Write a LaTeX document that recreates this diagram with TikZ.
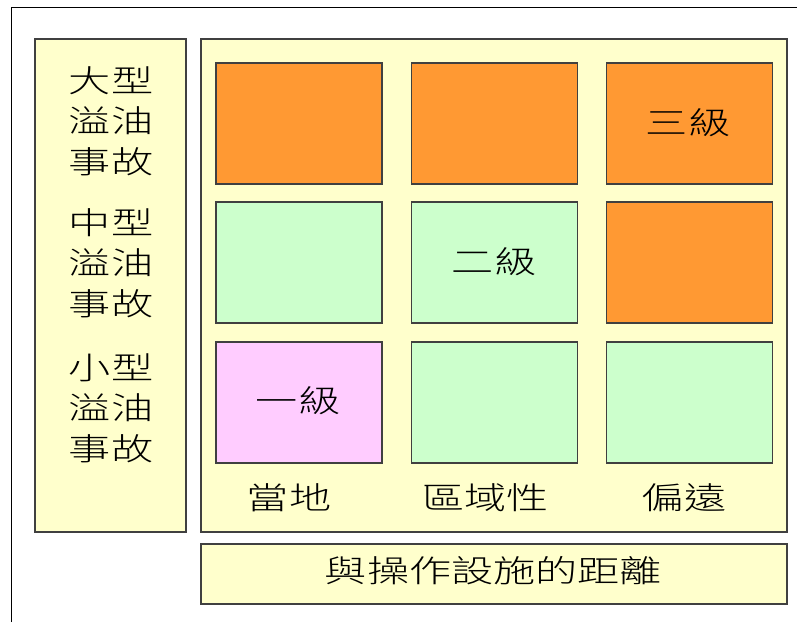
\documentclass[tikz,border=0pt]{standalone}
\usepackage{fontspec}
\newfontfamily\cjk[FakeStretch=1.36]{Noto Sans CJK TC Light}
\definecolor{cream}{HTML}{FFFFCC}
\definecolor{orng}{HTML}{FF9933}
\definecolor{grn}{HTML}{CCFFCC}
\definecolor{pnk}{HTML}{FFCCFF}
\definecolor{edge}{HTML}{404040}
\tikzset{
  panel/.style={draw=edge, line width=1.5pt, fill=cream, inner sep=0pt, anchor=north west},
  cell/.style={draw=edge, line width=1.5pt, inner sep=0pt, anchor=north west, minimum width=166pt, minimum height=121pt},
  lbl/.style={font=\cjk\fontsize{31}{40.5}\selectfont, inner sep=0pt, text=black, align=center}
}
\begin{document}
\begin{tikzpicture}[x=1pt,y=-1pt]
\useasboundingbox (0,0) rectangle (797,622);
\coordinate (fb) at (11.5,622);
\coordinate (fc) at (11.5,7.5);
\coordinate (fr) at (797,7.5);
\draw[line width=1.2pt, black] (fb) -- (fc) -- (fr);
% panels
\node[panel, minimum width=151pt, minimum height=493pt] (left) at (34,38) {};
\node[panel, minimum width=586pt, minimum height=493pt] (grid) at (200,38) {};
\node[panel, minimum width=586pt, minimum height=60pt] (bottom) at (200,543) {};
% cells
\node[cell, fill=orng] (c11) at (215,62) {};
\node[cell, fill=orng] (c12) at (410.5,62) {};
\node[cell, fill=orng] (c13) at (605.5,62) {};
\node[cell, fill=grn] (c21) at (215,201) {};
\node[cell, fill=grn] (c22) at (410.5,201) {};
\node[cell, fill=orng] (c23) at (605.5,201) {};
\node[cell, fill=pnk] (c31) at (215,341) {};
\node[cell, fill=grn] (c32) at (410.5,341) {};
\node[cell, fill=grn] (c33) at (605.5,341) {};
% cell labels
\node[lbl] (t3) at (688,123) {三級};
\node[lbl] (t2) at (494,262) {二級};
\node[lbl] (t1) at (298,401) {一級};
% left labels
\node[lbl] (big) at (111,121) {大型\\溢油\\事故};
\node[lbl] (mid) at (111,263) {中型\\溢油\\事故};
\node[lbl] (small) at (111,408) {小型\\溢油\\事故};
% column labels
\node[lbl] (col1) at (289,498) {當地};
\node[lbl] (col2) at (485.5,498) {區域性};
\node[lbl] (col3) at (684,498) {偏遠};
% bottom label
\node[lbl] (dist) at (493.5,571) {與操作設施的距離};
\end{tikzpicture}
\end{document}
